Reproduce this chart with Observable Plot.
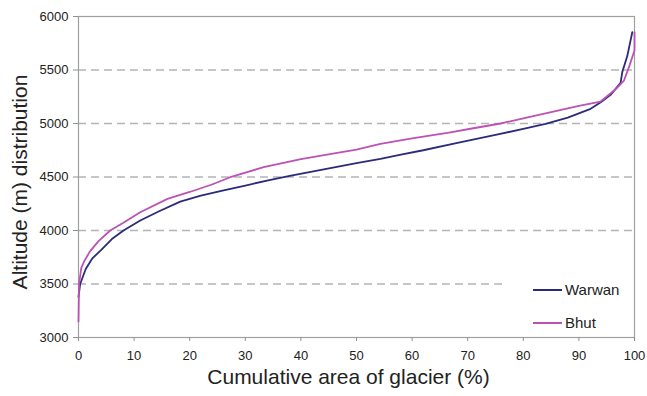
<!DOCTYPE html>
<html>
<head>
<meta charset="utf-8">
<script src="https://cdn.jsdelivr.net/npm/d3@7"></script>
<script src="https://cdn.jsdelivr.net/npm/@observablehq/plot@0.6"></script>
<style>
  html, body { margin: 0; padding: 0; background: #fff; }
  #wrap { position: relative; width: 647px; height: 396px; font-family: "Liberation Sans", Arial, sans-serif; }
  #legend { position: absolute; left: 506px; top: 272px; width: 126px; height: 62px; background: #fff; }
  .item { position: absolute; left: 27px; display: flex; align-items: center; font-size: 15px; color: #222; }
  .sw { width: 29px; height: 2px; margin-right: 3px; }
</style>
</head>
<body>
<div id="wrap"></div>
<script>
const seriesNames = ["Warwan", "Bhut"];
const seriesColors = ["#2c2a7a", "#bc52b4"];

const warwanArea = [0, 0.3, 1.3, 2.5, 4.0, 6.0, 8.1, 11.1, 14.5, 18.3, 22, 26.1, 30, 33.9, 38, 42, 46, 50, 54.3, 58, 62, 66.9, 70.5, 75, 80, 84, 88, 92.1, 94, 95.7, 97.5, 97.8, 98.7, 99.6];
const warwanAlt  = [3380, 3500, 3640, 3740, 3815, 3920, 4000, 4093, 4180, 4270, 4325, 4374, 4420, 4467, 4510, 4550, 4590, 4630, 4670, 4710, 4750, 4805, 4845, 4893, 4950, 4997, 5055, 5137, 5200, 5268, 5380, 5480, 5630, 5853];

const bhutArea = [0, 0.1, 0.5, 1.0, 2.0, 3.6, 5.7, 8, 11.1, 16, 20, 24, 27.3, 33.3, 40, 46, 50, 54.3, 60, 66.9, 70.5, 75.9, 80, 84, 90, 93.9, 96.6, 98.1, 99, 100, 100];
const bhutAlt  = [3150, 3500, 3650, 3710, 3800, 3900, 4000, 4070, 4170, 4296, 4360, 4430, 4498, 4592, 4668, 4720, 4755, 4810, 4860, 4918, 4951, 5000, 5048, 5095, 5165, 5205, 5320, 5400, 5527, 5682, 5853];

const xTicks = [0, 10, 20, 30, 40, 50, 60, 70, 80, 90, 100];
const yTicks = [3000, 3500, 4000, 4500, 5000, 5500, 6000];
const gridValues = [3500, 4000, 4500, 5000, 5500];

const data = [
  ...warwanArea.map((a, i) => ({series: seriesNames[0], area: a, alt: warwanAlt[i]})),
  ...bhutArea.map((a, i) => ({series: seriesNames[1], area: a, alt: bhutAlt[i]}))
];

const chart = Plot.plot({
  width: 647,
  height: 396,
  marginLeft: 78,
  marginRight: 13,
  marginTop: 16,
  marginBottom: 59,
  style: {fontFamily: "Liberation Sans, Arial, sans-serif", fontSize: "13px", color: "#222", background: "#fff"},
  x: {domain: [0, 100]},
  y: {domain: [3000, 6000]},
  color: {domain: seriesNames, range: seriesColors},
  marks: [
    Plot.ruleY(gridValues, {stroke: "#b4b4b4", strokeWidth: 1.5, strokeDasharray: "8,5"}),
    Plot.frame({stroke: "#a0a0a0", strokeWidth: 1.2}),
    Plot.axisX({ticks: xTicks, tickFormat: "d", tickSize: 4, tickPadding: 9, stroke: "#909090", fontSize: 13,
      label: "Cumulative area of glacier (%)", labelAnchor: "center", labelArrow: "none", labelOffset: 46}),
    Plot.axisY({ticks: yTicks, tickFormat: "d", tickSize: 5, tickPadding: 5, stroke: "#909090", fontSize: 13,
      label: "Altitude (m) distribution", labelAnchor: "center", labelArrow: "none", labelOffset: 66}),
    Plot.line(data, {x: "area", y: "alt", z: "series", stroke: "series", strokeWidth: 1.8, curve: "linear"})
  ]
});
// enlarge and nudge axis titles
chart.querySelectorAll("g[aria-label='x-axis label'] text").forEach(t => {
  t.setAttribute("font-size", "21px");
  t.style.fontSize = "21px";
  t.setAttribute("dx", "-8");
});
chart.querySelectorAll("g[aria-label='y-axis label'] text").forEach(t => {
  t.setAttribute("font-size", "21px");
  t.style.fontSize = "21px";
  t.setAttribute("dx", "-5");
});
const wrap = document.getElementById("wrap");
wrap.appendChild(chart);

const legend = document.createElement("div");
legend.id = "legend";
seriesNames.forEach((name, i) => {
  const it = document.createElement("div");
  it.className = "item";
  it.style.top = (i === 0 ? 9 : 42) + "px";
  const sw = document.createElement("span");
  sw.className = "sw";
  sw.style.background = seriesColors[i];
  const tx = document.createElement("span");
  tx.textContent = name;
  it.appendChild(sw);
  it.appendChild(tx);
  legend.appendChild(it);
});
wrap.appendChild(legend);
</script>
</body>
</html>
